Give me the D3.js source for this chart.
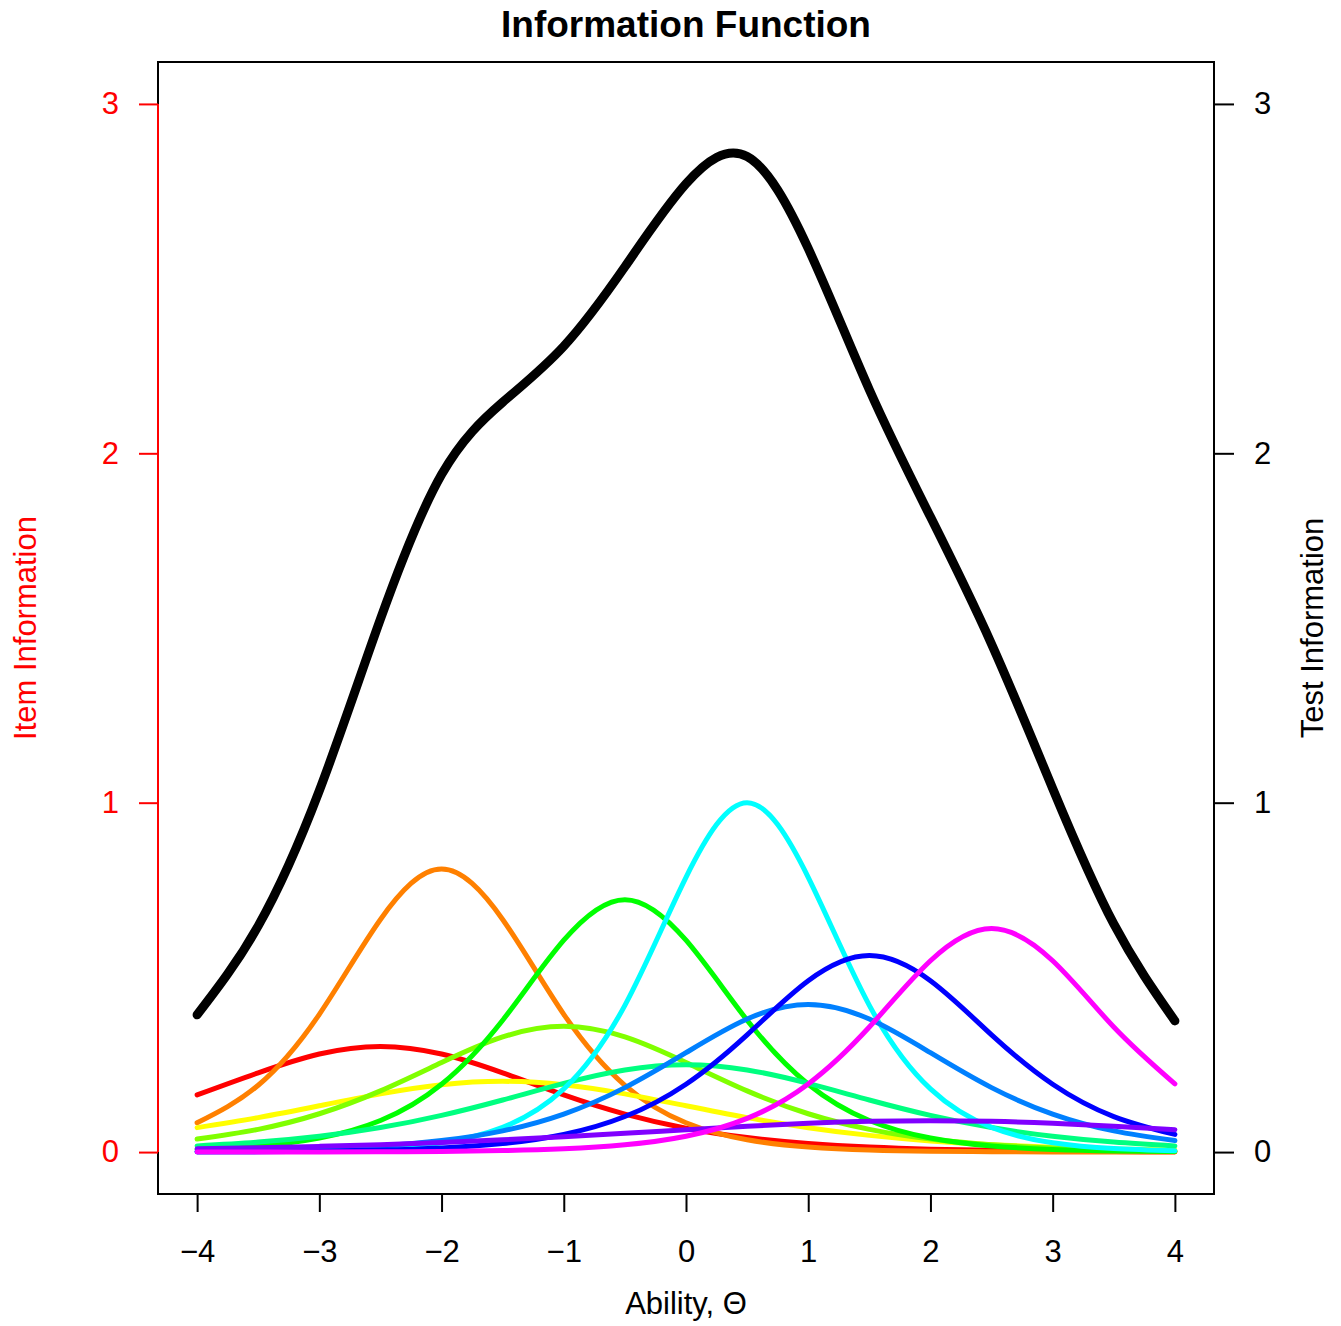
<!DOCTYPE html>
<meta charset="utf-8">
<script src="https://d3js.org/d3.v7.min.js"></script>
<style>
  body { margin: 0; background: #fff; }
  text { font-family: "Liberation Sans", Arial, Helvetica, sans-serif; }
</style>
<body>
<div id="canvas"></div>
<script>

// ability grid (theta) and the information
var theta = [-4, -3.5, -3, -2.5, -2, -1.5, -1, -0.5, 0, 0.5, 1, 1.5, 2, 2.5, 3, 3.5, 4];

var item01 = [0.1635, 0.2268, 0.2807, 0.3025, 0.2807, 0.2268, 0.1635, 0.1087, 0.0684, 0.0415, 0.0247, 0.0145, 0.0084, 0.0049, 0.0028, 0.0016, 0.0009];
var item02 = [0.0839, 0.1912, 0.3943, 0.6658, 0.8100, 0.6658, 0.3943, 0.1912, 0.0839, 0.0352, 0.0145, 0.0059, 0.0024, 0.0010, 0.0004, 0.0002, 0.0001];
var item03 = [0.0699, 0.0986, 0.1324, 0.1665, 0.1926, 0.2025, 0.1926, 0.1665, 0.1324, 0.0986, 0.0699, 0.0478, 0.0319, 0.0210, 0.0136, 0.0088, 0.0057];
var item04 = [0.0373, 0.0651, 0.1097, 0.1752, 0.2562, 0.3295, 0.3600, 0.3295, 0.2562, 0.1752, 0.1097, 0.0651, 0.0373, 0.0210, 0.0117, 0.0064, 0.0036];
var item05 = [0.0075, 0.0174, 0.0401, 0.0903, 0.1942, 0.3774, 0.6063, 0.7225, 0.6063, 0.3774, 0.1942, 0.0903, 0.0401, 0.0174, 0.0075, 0.0032, 0.0014];
var item06 = [0.0177, 0.0285, 0.0452, 0.0701, 0.1050, 0.1491, 0.1966, 0.2350, 0.2500, 0.2350, 0.1966, 0.1491, 0.1050, 0.0701, 0.0452, 0.0285, 0.0177];
var item07 = [0.0005, 0.0013, 0.0036, 0.0099, 0.0266, 0.0707, 0.1807, 0.4200, 0.7864, 1.0000, 0.7864, 0.4200, 0.1807, 0.0707, 0.0266, 0.0099, 0.0036];
var item08 = [0.0025, 0.0048, 0.0092, 0.0175, 0.0329, 0.0607, 0.1088, 0.1844, 0.2844, 0.3808, 0.4225, 0.3808, 0.2844, 0.1844, 0.1088, 0.0607, 0.0329];
var item09 = [0.0006, 0.0012, 0.0026, 0.0056, 0.0117, 0.0245, 0.0505, 0.1017, 0.1942, 0.3355, 0.4903, 0.5625, 0.4903, 0.3355, 0.1942, 0.1017, 0.0505];
var item10 = [0.0093, 0.0123, 0.0163, 0.0212, 0.0274, 0.0350, 0.0438, 0.0537, 0.0640, 0.0740, 0.0824, 0.0880, 0.0900, 0.0880, 0.0824, 0.0740, 0.0640];
var item11 = [0.0001, 0.0002, 0.0004, 0.0009, 0.0019, 0.0042, 0.0094, 0.0207, 0.0453, 0.0963, 0.1951, 0.3579, 0.5476, 0.6400, 0.5476, 0.3579, 0.1951];

var testInfo = [0.3928, 0.6474, 1.0345, 1.5255, 1.9392, 2.1462, 2.3065, 2.5339, 2.7715, 2.8495, 2.5863, 2.1819, 1.8181, 1.4540, 1.0408, 0.6529, 0.3755];

var xTicks = [-4, -3, -2, -1, 0, 1, 2, 3, 4];
var yTicks = [0, 1, 2, 3];

var items = [item01, item02, item03, item04, item05, item06, item07, item08, item09, item10, item11];
var itemColors = ["#FF0000", "#FF8000", "#FFFF00", "#80FF00", "#00FF00", "#00FF80",
                  "#00FFFF", "#0080FF", "#0000FF", "#8000FF", "#FF00FF"];

var width = 1341;
var height = 1326;
var mLeft = 158, mRight = 1214, mTop = 62, mBottom = 1194;

var svg = d3.select("#canvas")
  .append("svg")
    .attr("width", width)
    .attr("height", height);

// R style: 4% padding around the data range
var x = d3.scaleLinear().domain([-4.32, 4.32]).range([mLeft, mRight]);
var y = d3.scaleLinear().domain([-0.12, 3.12]).range([mBottom, mTop]);

var line = d3.line()
  .x(function(d, i) { return x(theta[i]); })
  .y(function(d) { return y(d); })
  .curve(d3.curveNatural);

// item curves
svg.selectAll("path.item")
  .data(items)
  .enter()
  .append("path")
    .attr("class", "item")
    .attr("d", line)
    .attr("fill", "none")
    .attr("stroke", function(d, i) { return itemColors[i]; })
    .attr("stroke-width", 5)
    .attr("stroke-linecap", "round")
    .attr("stroke-linejoin", "round");

// test information
svg.append("path")
  .datum(testInfo)
  .attr("d", line)
  .attr("fill", "none")
  .attr("stroke", "#000")
  .attr("stroke-width", 9)
  .attr("stroke-linecap", "round")
  .attr("stroke-linejoin", "round");

// box
svg.append("rect")
  .attr("x", mLeft).attr("y", mTop)
  .attr("width", mRight - mLeft).attr("height", mBottom - mTop)
  .attr("fill", "none")
  .attr("stroke", "#000")
  .attr("stroke-width", 2);

var fmt = function(d) { return d < 0 ? "\u2212" + Math.abs(d) : String(d); };

// bottom axis
var xAxis = svg.append("g")
  .attr("transform", "translate(0," + mBottom + ")")
  .call(d3.axisBottom(x).tickValues(xTicks).tickFormat(fmt).tickSize(18).tickPadding(28));
xAxis.select(".domain").remove();
xAxis.append("line")
  .attr("x1", x(-4)).attr("x2", x(4))
  .attr("stroke", "#000").attr("stroke-width", 2);

// left axis (item information, red)
var yLeft = svg.append("g")
  .attr("transform", "translate(" + mLeft + ",0)")
  .call(d3.axisLeft(y).tickValues(yTicks).tickFormat(fmt).tickSize(19).tickPadding(20));
yLeft.select(".domain").remove();
yLeft.append("line")
  .attr("y1", y(0)).attr("y2", y(3))
  .attr("stroke", "#FF0000").attr("stroke-width", 2);
yLeft.selectAll(".tick line").attr("stroke", "#FF0000");
yLeft.selectAll(".tick text").attr("fill", "#FF0000");

// right axis (test information)
var yRight = svg.append("g")
  .attr("transform", "translate(" + mRight + ",0)")
  .call(d3.axisRight(y).tickValues(yTicks).tickFormat(fmt).tickSize(20).tickPadding(20));
yRight.select(".domain").remove();

svg.selectAll(".tick line").attr("stroke-width", 2);
svg.selectAll(".tick text")
  .style("font-size", "31px")
  .style("font-family", "'Liberation Sans', Arial, Helvetica, sans-serif");

// titles
svg.append("text")
  .attr("x", (mLeft + mRight) / 2)
  .attr("y", 37)
  .attr("text-anchor", "middle")
  .style("font-size", "37px")
  .style("font-weight", "bold")
  .text("Information Function");

svg.append("text")
  .attr("x", (mLeft + mRight) / 2)
  .attr("y", 1314)
  .attr("text-anchor", "middle")
  .style("font-size", "31px")
  .text("Ability, \u0398");

svg.append("text")
  .attr("transform", "translate(36," + ((mTop + mBottom) / 2) + ") rotate(-90)")
  .attr("text-anchor", "middle")
  .attr("fill", "#FF0000")
  .style("font-size", "31px")
  .text("Item Information");

svg.append("text")
  .attr("transform", "translate(1323," + ((mTop + mBottom) / 2) + ") rotate(-90)")
  .attr("text-anchor", "middle")
  .style("font-size", "31px")
  .text("Test Information");

</script>
</body>
